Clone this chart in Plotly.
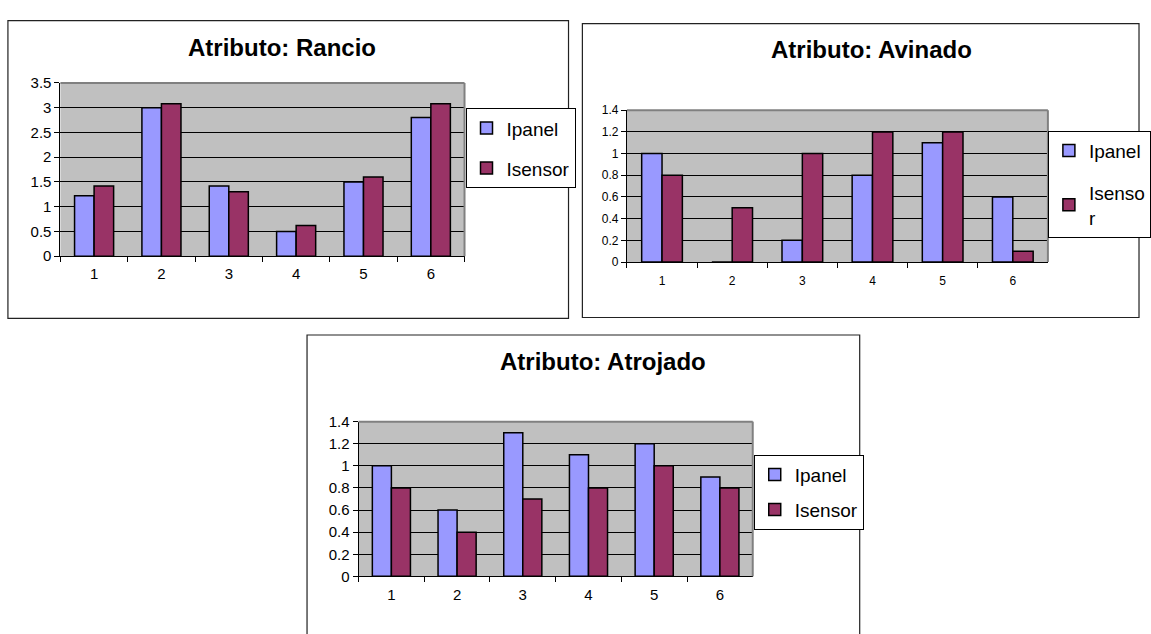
import plotly.graph_objects as go

W, H = 1151, 634

categories = ["1", "2", "3", "4", "5", "6"]

rancio_ipanel = [1.22, 3.0, 1.42, 0.5, 1.5, 2.8]
rancio_isensor = [1.42, 3.08, 1.3, 0.62, 1.6, 3.08]

avinado_ipanel = [1.0, 0.0, 0.2, 0.8, 1.1, 0.6]
avinado_isensor = [0.8, 0.5, 1.0, 1.2, 1.2, 0.1]

atrojado_ipanel = [1.0, 0.6, 1.3, 1.1, 1.2, 0.9]
atrojado_isensor = [0.8, 0.4, 0.7, 0.8, 1.0, 0.8]

titles = ["Atributo: Rancio", "Atributo: Avinado", "Atributo: Atrojado"]

C_PANEL = "#9999FF"
C_SENSOR = "#993366"
FONT = "Liberation Sans, Arial, sans-serif"


def px(x):
    return x / W


def py(y):
    return 1 - y / H


panels = [
    dict(frame=(8, 12, 574, 318), plot=(61, 76, 469, 254), title=(285, 40),
         legend=(470, 102), gap=12.3, dtick=0.5, ymax=3.5, tick=15, stand=4,
         data=(rancio_ipanel, rancio_isensor), names=("Ipanel", "Isensor")),
    dict(frame=(588, 15, 1150, 317), plot=(633, 104, 1058, 260), title=(880, 42),
         legend=(1058, 125), gap=14.3, dtick=0.2, ymax=1.4, tick=12, stand=8,
         data=(avinado_ipanel, avinado_isensor), names=("Ipanel", "Isenso<br>r")),
    dict(frame=(310, 335, 868, 645), plot=(362, 424, 760, 583), title=(609, 362),
         legend=(761, 458), gap=7.3, dtick=0.2, ymax=1.4, tick=15, stand=5,
         data=(atrojado_ipanel, atrojado_isensor), names=("Ipanel", "Isensor")),
]

fig = go.Figure()
shapes = []
annotations = []
layout = {}

for i, p in enumerate(panels):
    n = "" if i == 0 else str(i + 1)
    xa, ya = "x" + n, "y" + n
    lg = "legend" + n
    ip, se = p["data"]
    fig.add_trace(go.Bar(x=categories, y=ip, name=p["names"][0], xaxis=xa, yaxis=ya,
                         marker=dict(color=C_PANEL, line=dict(color="black", width=1.5)),
                         legend=lg, legendgroup="a" + n))
    fig.add_trace(go.Bar(x=categories, y=se, name=p["names"][1], xaxis=xa, yaxis=ya,
                         marker=dict(color=C_SENSOR, line=dict(color="black", width=1.5)),
                         legend=lg, legendgroup="b" + n))
    x0, y0, x1, y1 = p["plot"]
    layout["xaxis" + n] = dict(
        domain=[px(x0), px(x1)], anchor=ya, type="category", tickson="boundaries",
        ticks="outside", ticklen=5, tickcolor="black", showline=True, linecolor="black",
        linewidth=1, showgrid=False, tickfont=dict(family=FONT, size=p["tick"], color="black"),
        ticklabelstandoff=p["stand"], fixedrange=True)
    layout["yaxis" + n] = dict(
        domain=[py(y1), py(y0)], anchor=xa, range=[0, p["ymax"]], dtick=p["dtick"],
        ticks="outside", ticklen=5, tickcolor="black", showline=True, linecolor="black",
        linewidth=1, showgrid=True, gridcolor="black", gridwidth=1, zeroline=False,
        tickfont=dict(family=FONT, size=p["tick"], color="black"), fixedrange=True)
    lx, ly = p["legend"]
    layout[lg] = dict(x=px(lx), y=py(ly), xanchor="left", yanchor="top",
                      bgcolor="white", bordercolor="black", borderwidth=1,
                      font=dict(family=FONT, size=19, color="black"),
                      tracegroupgap=p["gap"], traceorder="grouped",
                      itemwidth=30)
    shapes.append(dict(type="rect", xref=xa + " domain", yref=ya + " domain",
                       x0=0, x1=1, y0=0, y1=1, fillcolor="#C0C0C0", line=dict(width=0),
                       layer="below"))
    shapes.append(dict(type="line", xref=xa + " domain", yref=ya + " domain",
                       x0=0, x1=1, y0=1, y1=1, line=dict(color="#808080", width=2)))
    shapes.append(dict(type="line", xref=xa + " domain", yref=ya + " domain",
                       x0=1, x1=1, y0=0, y1=1, line=dict(color="#808080", width=2)))
    fx0, fy0, fx1, fy1 = p["frame"]
    shapes.append(dict(type="rect", xref="paper", yref="paper",
                       x0=px(fx0), x1=px(fx1), y0=py(fy1), y1=py(fy0),
                       line=dict(color="#222222", width=1.2), layer="below"))
    tx, ty = p["title"]
    annotations.append(dict(text="<b>" + titles[i] + "</b>", x=px(tx), y=py(ty),
                            xref="paper", yref="paper", showarrow=False,
                            xanchor="center", yanchor="middle",
                            font=dict(family=FONT, size=24, color="black")))

fig.update_layout(
    width=W, height=H, margin=dict(l=0, r=0, t=0, b=0),
    paper_bgcolor="white", plot_bgcolor="rgba(0,0,0,0)",
    barmode="group", bargap=0.42, bargroupgap=0,
    shapes=shapes, annotations=annotations, showlegend=True,
    **layout,
)

fig.write_html(
    "out.html",
    config={"displayModeBar": False},
    post_script="document.body.style.margin='0';document.body.style.overflow='hidden';",
)
